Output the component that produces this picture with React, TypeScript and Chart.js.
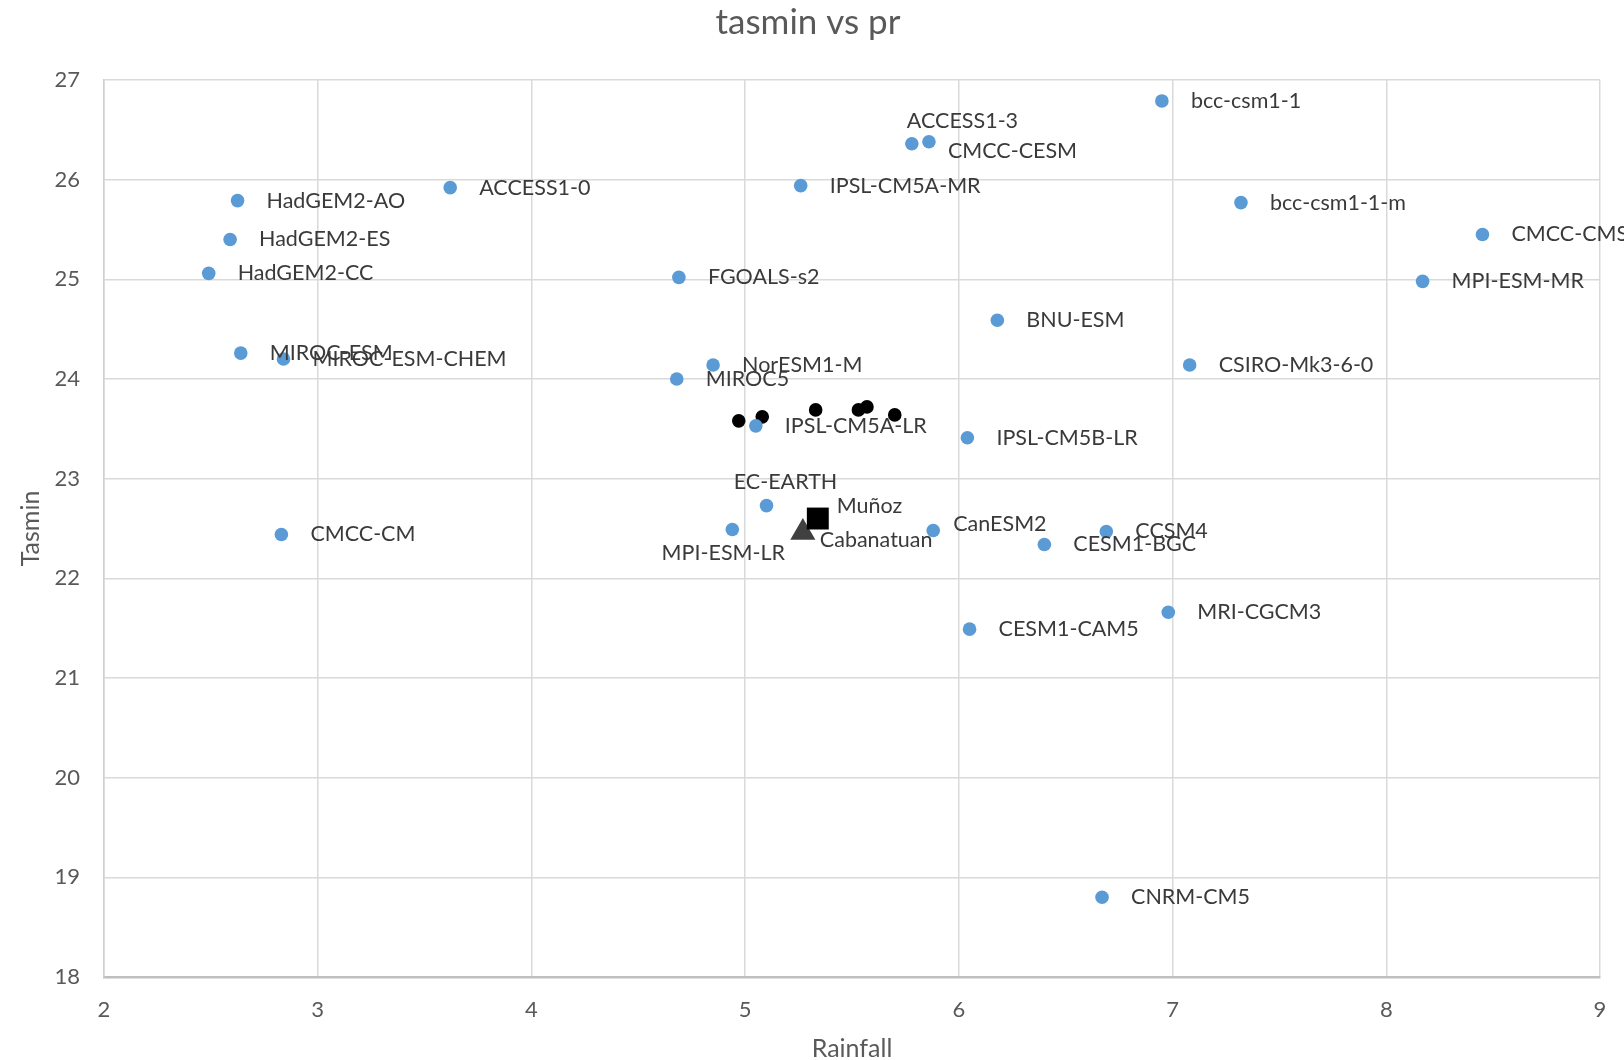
import React, { useEffect, useRef } from 'react';
import { Chart, registerables } from 'chart.js';

Chart.register(...registerables);

const FONT = 'Lato, "Open Sans", "DejaVu Sans", sans-serif';

// ---- Data ----
const chartTitle = 'tasmin vs pr';
const modelNames = [
  'bcc-csm1-1', 'ACCESS1-3', 'CMCC-CESM', 'IPSL-CM5A-MR', 'ACCESS1-0',
  'HadGEM2-AO', 'HadGEM2-ES', 'HadGEM2-CC', 'FGOALS-s2', 'bcc-csm1-1-m',
  'CMCC-CMS', 'MPI-ESM-MR', 'BNU-ESM', 'CSIRO-Mk3-6-0', 'MIROC-ESM',
  'MIROC-ESM-CHEM', 'NorESM1-M', 'MIROC5', 'IPSL-CM5A-LR', 'IPSL-CM5B-LR',
  'EC-EARTH', 'MPI-ESM-LR', 'CanESM2', 'CESM1-BGC', 'CCSM4',
  'CMCC-CM', 'MRI-CGCM3', 'CESM1-CAM5', 'CNRM-CM5',
];
const modelRainfall = [
  6.95, 5.78, 5.86, 5.26, 3.62,
  2.625, 2.59, 2.49, 4.69, 7.32,
  8.45, 8.17, 6.18, 7.08, 2.64,
  2.84, 4.85, 4.68, 5.05, 6.04,
  5.10, 4.94, 5.88, 6.40, 6.69,
  2.83, 6.98, 6.05, 6.67,
];
const modelTasmin = [
  26.79, 26.36, 26.38, 25.94, 25.92,
  25.79, 25.40, 25.06, 25.02, 25.77,
  25.45, 24.98, 24.59, 24.14, 24.26,
  24.20, 24.14, 24.00, 23.53, 23.41,
  22.73, 22.49, 22.48, 22.34, 22.47,
  22.44, 21.66, 21.49, 18.80,
];
const modelLabelPlacement = [
  'right', 'aboveLeft', 'rightLow', 'right', 'right',
  'right', 'right', 'right', 'right', 'right',
  'right', 'right', 'right', 'right', 'right',
  'right', 'right', 'right', 'right', 'right',
  'above', 'below', 'rightHigh', 'right', 'right',
  'right', 'right', 'right', 'right',
];

const ensembleRainfall = [4.97, 5.08, 5.33, 5.53, 5.57, 5.70];
const ensembleTasmin = [23.58, 23.62, 23.69, 23.69, 23.72, 23.64];

const stationNames = ['Muñoz', 'Cabanatuan'];
const stationRainfall = [5.34, 5.27];
const stationTasmin = [22.60, 22.46];
const stationLabelPlacement = ['stationHigh', 'stationLow'];

const xTicks = [2, 3, 4, 5, 6, 7, 8, 9];
const yTicks = [18, 19, 20, 21, 22, 23, 24, 25, 26, 27];

// ---- Label placement styles ----
const placementStyles: Record<string, { dx: number; dy: number; align: CanvasTextAlign }> = {
  right: { dx: 29, dy: 0, align: 'left' },
  rightLow: { dx: 19, dy: 9, align: 'left' },
  rightHigh: { dx: 20, dy: -6, align: 'left' },
  aboveLeft: { dx: -5, dy: -23, align: 'left' },
  above: { dx: 19, dy: -24, align: 'center' },
  below: { dx: -9, dy: 24, align: 'center' },
  stationHigh: { dx: 19, dy: -12, align: 'left' },
  stationLow: { dx: 17, dy: 8, align: 'left' },
};

const pointLabelPlugin = {
  id: 'pointLabels',
  afterDatasetsDraw(chart: any) {
    const ctx = chart.ctx;
    ctx.save();
    ctx.font = `21.5px ${FONT}`;
    ctx.fillStyle = '#3a3a3a';
    ctx.textBaseline = 'middle';
    chart.data.datasets.forEach((ds: any, di: number) => {
      if (!ds.pointLabels) return;
      const meta = chart.getDatasetMeta(di);
      meta.data.forEach((el: any, i: number) => {
        const st = placementStyles[ds.labelPlacement[i]] || placementStyles.right;
        ctx.textAlign = st.align;
        ctx.fillText(ds.pointLabels[i], el.x + st.dx, el.y + st.dy);
      });
    });
    ctx.restore();
  },
};

const titlePlugin = {
  id: 'chartTitleText',
  afterDraw(chart: any) {
    const ctx = chart.ctx;
    ctx.save();
    ctx.font = `35px ${FONT}`;
    ctx.fillStyle = '#595959';
    ctx.textAlign = 'center';
    ctx.textBaseline = 'middle';
    ctx.fillText(chartTitle, 808, 23);
    ctx.restore();
  },
};

export default function App() {
  const ref = useRef<HTMLCanvasElement>(null);

  useEffect(() => {
    const toPts = (xs: number[], ys: number[]) => xs.map((x, i) => ({ x, y: ys[i] }));
    const chart = new Chart(ref.current as HTMLCanvasElement, {
      type: 'scatter',
      data: {
        datasets: [
          {
            label: 'Models',
            data: toPts(modelRainfall, modelTasmin),
            backgroundColor: '#5B9BD5',
            borderColor: '#5B9BD5',
            borderWidth: 0,
            pointRadius: 6.8,
            pointStyle: 'circle',
            pointLabels: modelNames,
            labelPlacement: modelLabelPlacement,
          } as any,
          {
            label: 'Ensemble',
            data: toPts(ensembleRainfall, ensembleTasmin),
            backgroundColor: '#000000',
            borderColor: '#000000',
            borderWidth: 0,
            pointRadius: 6.8,
            pointStyle: 'circle',
          },
          {
            label: 'Muñoz',
            data: [{ x: stationRainfall[0], y: stationTasmin[0] }],
            backgroundColor: '#000000',
            borderColor: '#000000',
            borderWidth: 0,
            pointRadius: 15.5,
            pointStyle: 'rect',
            pointLabels: [stationNames[0]],
            labelPlacement: [stationLabelPlacement[0]],
          } as any,
          {
            label: 'Cabanatuan',
            data: [{ x: stationRainfall[1], y: stationTasmin[1] }],
            backgroundColor: '#404040',
            borderColor: '#404040',
            borderWidth: 0,
            pointRadius: 14.5,
            pointStyle: 'triangle',
            pointLabels: [stationNames[1]],
            labelPlacement: [stationLabelPlacement[1]],
          } as any,
        ],
      },
      options: {
        responsive: false,
        animation: false,
        layout: { padding: { left: 0, right: 24, top: 80, bottom: 0 } },
        plugins: {
          legend: { display: false },
          tooltip: { enabled: false },
          title: { display: false },
        },
        scales: {
          x: {
            type: 'linear',
            min: xTicks[0],
            max: xTicks[xTicks.length - 1],
            afterBuildTicks: (s: any) => { s.ticks = xTicks.map((v) => ({ value: v })); },
            ticks: { color: '#595959', font: { family: FONT, size: 22 }, padding: 20 },
            grid: { color: '#d9d9d9', lineWidth: 1.5, drawTicks: false },
            border: { color: '#bfbfbf', width: 2.5 },
            title: {
              display: true,
              text: 'Rainfall',
              color: '#595959',
              font: { family: FONT, size: 25, lineHeight: 0.85 },
              padding: { top: 0, bottom: 0 },
            },
            afterFit: (s: any) => {
              s.height = 83;
              s.paddingLeft = 0;
              s.paddingRight = 0;
            },
          },
          y: {
            type: 'linear',
            min: yTicks[0],
            max: yTicks[yTicks.length - 1],
            afterBuildTicks: (s: any) => { s.ticks = yTicks.map((v) => ({ value: v })); },
            ticks: { color: '#595959', font: { family: FONT, size: 22 }, padding: 24 },
            grid: { color: '#d9d9d9', lineWidth: 1.5, drawTicks: false },
            border: { color: '#d0d0d0', width: 1.5 },
            title: {
              display: true,
              text: 'Tasmin',
              color: '#595959',
              font: { family: FONT, size: 25, lineHeight: 1.2 },
              padding: { top: 16, bottom: 0 },
            },
            afterFit: (s: any) => { s.width = 104; },
          },
        },
      } as any,
      plugins: [pointLabelPlugin, titlePlugin],
    });
    return () => chart.destroy();
  }, []);

  return (
    <div style={{ position: 'fixed', left: 0, top: 0, width: 1624, height: 1060, background: '#ffffff' }}>
      <canvas ref={ref} width={1624} height={1060} />
    </div>
  );
}
